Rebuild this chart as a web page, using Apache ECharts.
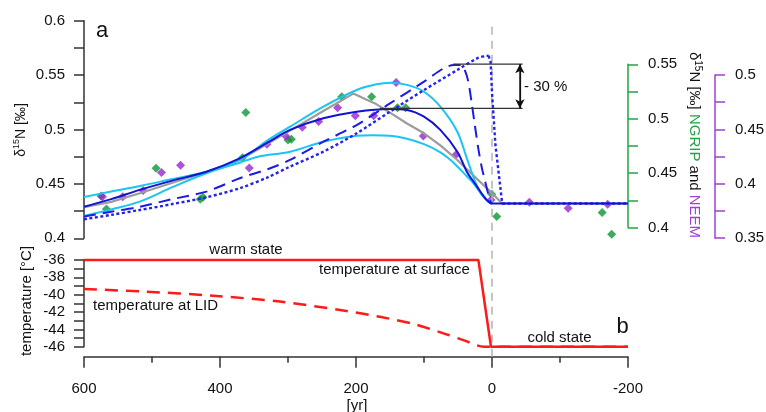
<!DOCTYPE html>
<html><head><meta charset="utf-8">
<script src="https://cdn.jsdelivr.net/npm/echarts@6/dist/echarts.min.js"></script>
<style>html,body{margin:0;padding:0;background:#fff}#c{width:766px;height:412px}</style>
</head><body><div id="c"></div>
<script>
// ---------- data (year before event, value) ----------
const xTicks = [600, 400, 200, 0, -200];
const blueSolid = [[600,0.429],[560,0.436],[518,0.4445],[470,0.453],[420,0.4612],[371,0.4735],[330,0.488],[297,0.4996],[248,0.5103],[199,0.5164],[150,0.5189],[125,0.518],[100,0.5118],[76,0.4996],[51,0.4796],[37,0.4612],[22,0.4475],[12,0.4383],[5,0.4337],[0,0.432],[-200,0.432]];
const cyanUpper = [[600,0.438],[560,0.443],[518,0.448],[470,0.4545],[420,0.4612],[371,0.472],[330,0.49],[297,0.5026],[248,0.521],[199,0.5363],[170,0.5415],[150,0.543],[125,0.541],[100,0.5347],[76,0.521],[51,0.498],[37,0.4735],[22,0.448],[12,0.4385],[5,0.4335],[0,0.432]];
const cyanLower = [[600,0.4205],[560,0.4265],[518,0.4337],[470,0.447],[420,0.4598],[371,0.4695],[344,0.475],[297,0.4796],[248,0.4888],[199,0.4943],[175,0.4948],[150,0.4943],[125,0.4915],[100,0.4865],[76,0.479],[61,0.472],[51,0.466],[37,0.457],[30,0.4525],[22,0.446],[15,0.44],[8,0.435],[3,0.4325],[0,0.432]];
const grayLine = [[600,0.4285],[560,0.4335],[518,0.4414],[470,0.451],[420,0.461],[371,0.472],[297,0.499],[248,0.517],[204,0.533],[185,0.5275],[172,0.524],[150,0.5155],[125,0.5055],[100,0.4965],[75,0.485],[51,0.472],[32,0.4605],[0,0.4415],[-15,0.432],[-200,0.432]];
const blueDashed = [[600,0.42],[560,0.4245],[518,0.429],[470,0.436],[420,0.4429],[371,0.4552],[330,0.4635],[297,0.472],[248,0.4888],[199,0.5041],[150,0.524],[100,0.544],[71,0.5563],[56,0.5593],[45,0.5593],[40,0.5545],[35,0.5445],[30,0.525],[25,0.503],[20,0.482],[15,0.465],[10,0.452],[5,0.4395],[2,0.4335],[0,0.432]];
const blueDottedRise = [[600,0.4175],[560,0.4215],[518,0.426],[470,0.4315],[420,0.4377],[371,0.446],[330,0.456],[297,0.4659],[248,0.4796],[199,0.4965],[150,0.5164],[100,0.5363],[51,0.5547],[22,0.5654],[10,0.5675],[5,0.5678]];
const blueDottedFall = [[5,0.5678],[2,0.562],[0,0.534],[-5,0.486],[-15,0.432],[-200,0.432]];
const refUpper = [[57,0.56],[-45,0.56]];
const refLower = [[165,0.5195],[-45,0.5195]];
const refArrow = [[-41,0.56],[-41,0.5195]];
// NGRIP (right green axis) and NEEM (right purple axis)
const ngrip = [[575,0.4289],[567,0.417],[494,0.4544],[429,0.4259],[425,0.4277],[367,0.4641],[362,0.5058],[300,0.4804],[295,0.4811],[221,0.5202],[177,0.5202],[139,0.51],[127,0.51],[0.4,0.4306],[-7,0.4102],[-162,0.4139],[-176,0.3937]];
const neem = [[573,0.388],[543,0.388],[513,0.3938],[486,0.4103],[458,0.4171],[357,0.4146],[331,0.4364],[303,0.4438],[279,0.4519],[255,0.4572],[227,0.47],[201,0.4626],[174,0.4626],[141,0.493],[101,0.444],[53,0.4266],[1.5,0.3852],[-55,0.3831],[-112,0.3776],[-170,0.3813]];
// temperature panel
const tempSurface = [[600,-36],[20,-36],[1.5,-46],[-200,-46]];
const tempLID = [[600,-39.35],[510,-39.65],[410,-40.12],[312,-40.8],[214,-41.88],[165,-42.55],[115,-43.38],[66,-44.6],[40,-45.3],[22,-45.85],[12,-46],[-200,-46]];
const zeroLine = [[0,0],[0,1]];

// ---------- chart ----------
const FONT = '"Liberation Sans", Arial, sans-serif';
const TXT = '#111';
const GREEN = '#22a544', PURPLE = '#a23fd3';
const chart = echarts.init(document.getElementById('c'), null, {renderer: 'canvas'});
const L = 84, W = 544;
const grid = [
  {left: L, width: W, top: 20.7, height: 217.6},
  {left: L, width: W, top: 260, height: 86.7},
  {left: L, width: W, top: 64.3, height: 163.2},
  {left: L, width: W, top: 75, height: 163.2},
  {left: L, width: W, top: 20.7, height: 336}
].map(g => Object.assign({outerBoundsMode: 'none', containLabel: false, show: false}, g));

function hiddenX(i) {
  return {type: 'value', gridIndex: i, min: -200, max: 600, inverse: true, show: false};
}
const xAxis = [hiddenX(0), {
  type: 'value', gridIndex: 1, min: -200, max: 600, inverse: true, interval: 200, position: 'bottom', offset: 10,
  axisLine: {show: true, onZero: false, lineStyle: {color: '#333', width: 1.5}},
  axisTick: {show: true, length: 11, lineStyle: {color: '#333', width: 1.5}},
  minorTick: {show: true, splitNumber: 2, length: 6, lineStyle: {color: '#333', width: 1.5}},
  splitLine: {show: false},
  axisLabel: {margin: 25, fontSize: 15, fontFamily: FONT, color: TXT}
}, hiddenX(2), hiddenX(3), hiddenX(4)];

function valAxis(grid, min, max, interval, pos, color, offset) {
  return {
    type: 'value', gridIndex: grid, min, max, interval, position: pos, offset: offset || 0,
    axisLine: {show: true, onZero: false, lineStyle: {color, width: 1.5}},
    axisTick: {show: true, length: 10, lineStyle: {color, width: 1.5}},
    minorTick: {show: true, splitNumber: 2, length: 10, lineStyle: {color, width: 1.5}},
    splitLine: {show: false},
    axisLabel: {margin: pos === 'left' ? 19 : 20, fontSize: 15, fontFamily: FONT, color: TXT}
  };
}
const yAxis = [
  valAxis(0, 0.4, 0.6, 0.05, 'left', '#333'),
  valAxis(1, -46, -36, 2, 'left', '#333'),
  valAxis(2, 0.4, 0.55, 0.05, 'right', GREEN, 0),
  valAxis(3, 0.35, 0.5, 0.05, 'right', PURPLE, 87),
  {type: 'value', gridIndex: 4, min: 0, max: 1, show: false}
];

function line(data, color, width, type, smooth, extra) {
  return Object.assign({
    type: 'line', xAxisIndex: 0, yAxisIndex: 0, data, showSymbol: false, symbol: 'none',
    smooth: smooth, clip: false, silent: true, animation: false,
    lineStyle: {color, width, type: type || 'solid', cap: 'butt'}
  }, extra || {});
}

const series = [
  line(zeroLine, '#b3b3b3', 1.5, [8, 6], false, {xAxisIndex: 4, yAxisIndex: 4}),
  line(grayLine, '#9c9c9c', 2.2, 'solid', false),
  line(cyanUpper, '#1ac4f3', 2, 'solid', 0.35),
  line(cyanLower, '#1ac4f3', 2, 'solid', 0.35),
  line(blueDashed, '#1b1be6', 2, [12, 7], 0.3),
  line(blueDottedRise, '#2323ee', 2.4, [3, 2.5], 0.3),
  line(blueDottedFall, '#2323ee', 2.4, [3, 2.5], false),
  line(blueSolid, '#1212d6', 2, 'solid', 0.35),
  line(refUpper, '#333', 1.2, 'solid', false),
  line(refLower, '#333', 1.2, 'solid', false),
  line(refArrow, '#111', 1.2, 'solid', false, {
    markLine: {silent: true, symbol: ['arrow', 'arrow'], symbolSize: [7, 9], animation: false,
      label: {show: false}, lineStyle: {color: '#111', width: 1.2, type: 'solid'},
      data: [[{coord: refArrow[0]}, {coord: refArrow[1]}]]}
  }),
  {type: 'scatter', xAxisIndex: 2, yAxisIndex: 2, data: ngrip, symbol: 'diamond', symbolSize: 9,
    itemStyle: {color: '#0c9636'}, clip: false, silent: true, animation: false},
  {type: 'scatter', xAxisIndex: 3, yAxisIndex: 3, data: neem, symbol: 'diamond', symbolSize: 9,
    itemStyle: {color: '#9a26cf'}, clip: false, silent: true, animation: false},
  line(tempLID, '#ff1a1a', 2.5, [13, 8], 0.3, {xAxisIndex: 1, yAxisIndex: 1}),
  line(tempSurface, '#ff1a1a', 2.5, 'solid', false, {xAxisIndex: 1, yAxisIndex: 1})
];

function txt(x, y, text, opts) {
  return {type: 'text', x, y, rotation: (opts && opts.rotation) || 0, silent: true, z: 100,
    style: Object.assign({text, fontSize: 15, fontFamily: FONT, fill: TXT, align: 'center', verticalAlign: 'middle'},
      (opts && opts.style) || {})};
}
const richBase = {
  b: {fontSize: 15, fontFamily: FONT, fill: TXT, lineHeight: 18},
  s: {fontSize: 10, fontFamily: FONT, fill: TXT, verticalAlign: 'top', lineHeight: 18},
  g: {fontSize: 15, fontFamily: FONT, fill: GREEN, lineHeight: 18},
  p: {fontSize: 15, fontFamily: FONT, fill: PURPLE, lineHeight: 18}
};
const richLeft = {
  b: {fontSize: 14, fontFamily: FONT, fill: TXT, lineHeight: 17},
  s: {fontSize: 9, fontFamily: FONT, fill: TXT, verticalAlign: 'top', lineHeight: 17}
};

const graphic = [
  txt(102, 31, 'a', {style: {fontSize: 22}}),
  txt(622.5, 326.5, 'b', {style: {fontSize: 22}}),
  txt(524, 86.5, '- 30 %', {style: {align: 'left'}}),
  txt(246, 250, 'warm state'),
  txt(394.5, 270.3, 'temperature at surface'),
  txt(93, 305.8, 'temperature at LID', {style: {align: 'left'}}),
  txt(559.5, 337.8, 'cold state'),
  txt(357, 405.5, '[yr]'),
  txt(27, 301, 'temperature [°C]', {rotation: Math.PI / 2}),
  txt(21, 130, '{b|δ}{s|15}{b|N [‰]}', {rotation: Math.PI / 2, style: {rich: richLeft}}),
  txt(694, 145, '{b|δ}{s|15}{b|N [‰] }{g|NGRIP}{b| and }{p|NEEM}', {rotation: -Math.PI / 2, style: {rich: richBase}})
];

chart.setOption({
  backgroundColor: '#fff',
  animation: false,
  textStyle: {fontFamily: FONT},
  grid, xAxis, yAxis, series, graphic
});
</script>
</body></html>
